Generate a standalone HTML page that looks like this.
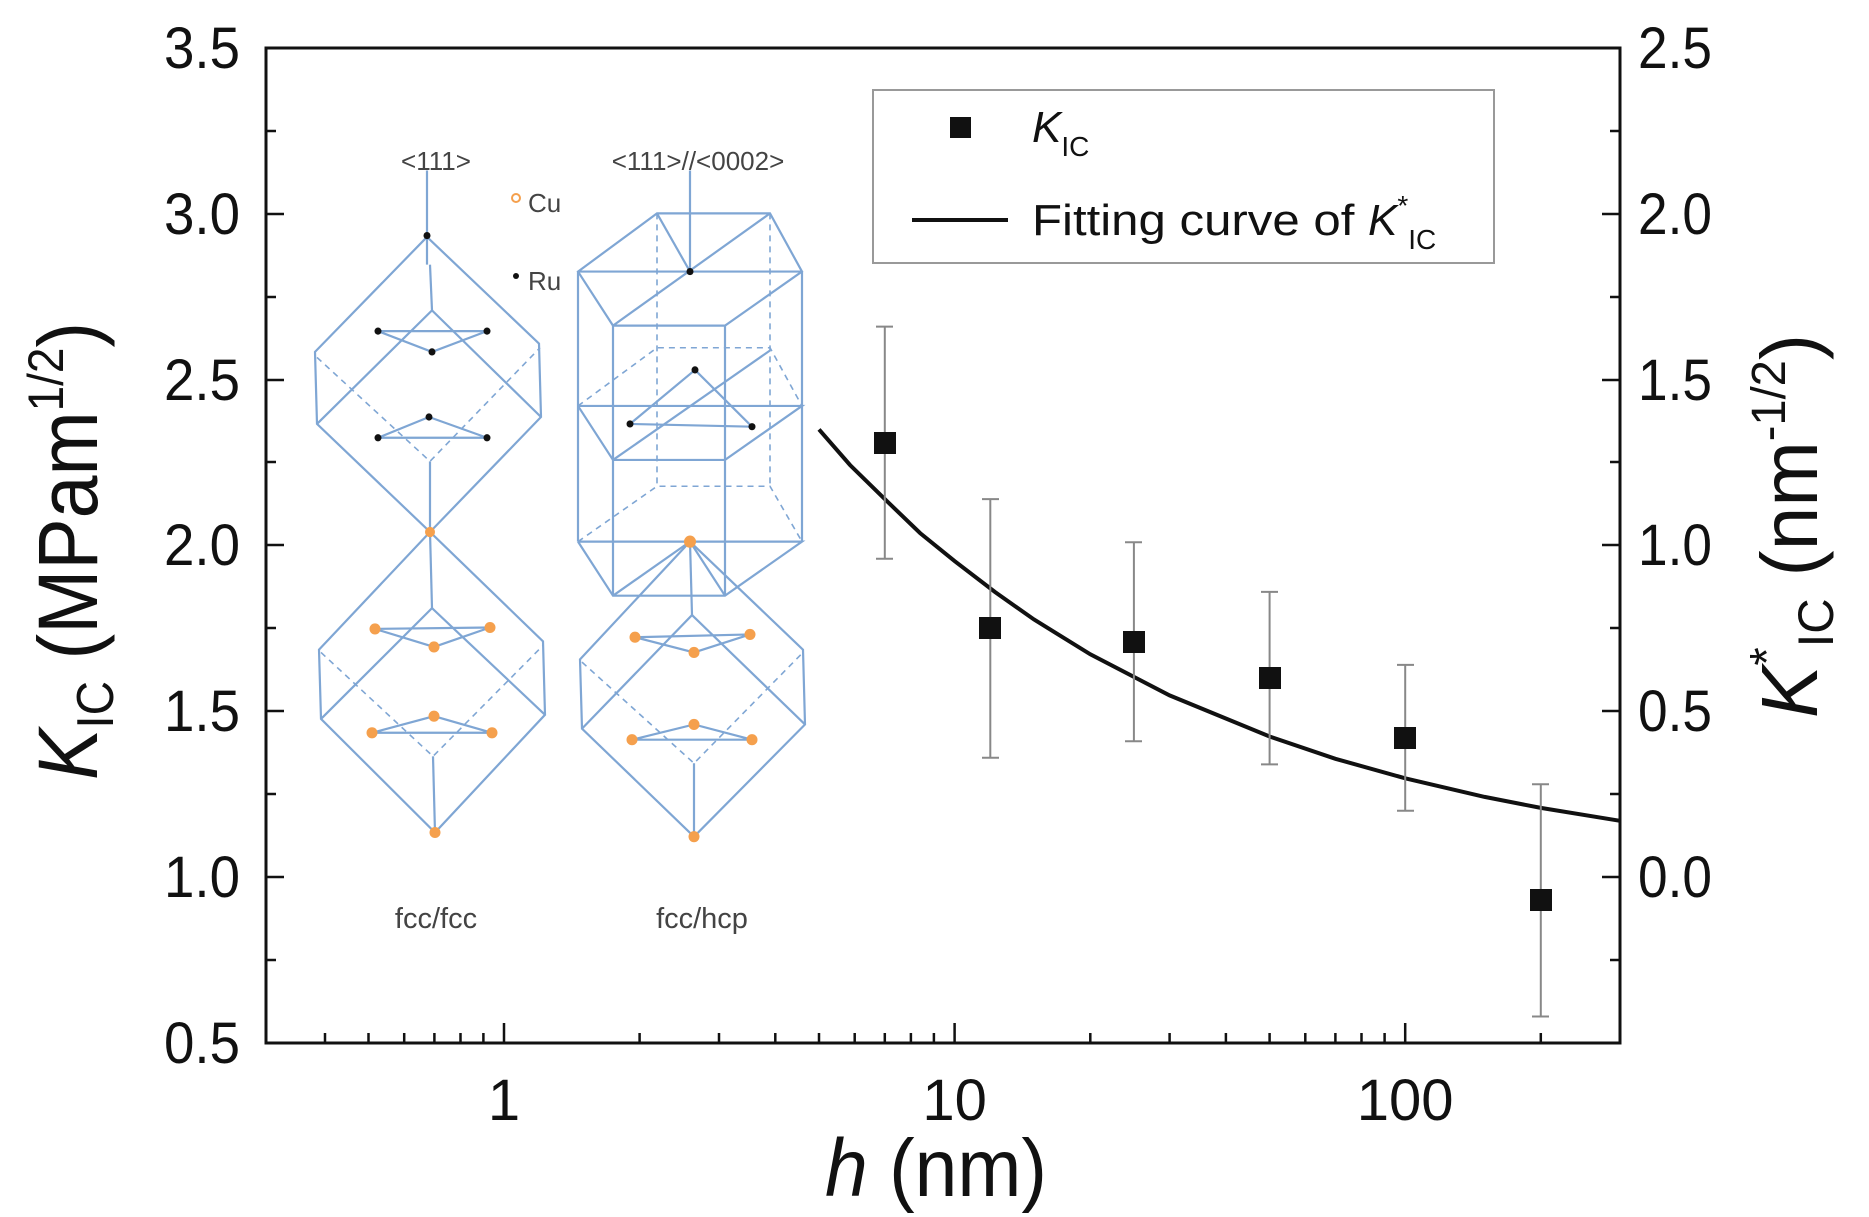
<!DOCTYPE html>
<html><head><meta charset="utf-8"><style>html,body{margin:0;padding:0;background:#fff}svg{display:block}</style></head>
<body>
<svg xmlns="http://www.w3.org/2000/svg" width="1869" height="1217" viewBox="0 0 1869 1217" font-family="Liberation Sans, sans-serif">
<rect width="1869" height="1217" fill="#fff"/>
<!-- inset crystals -->
<g transform="translate(0,140) scale(1,1.385) translate(0,-140)">
<g stroke="#7fa6d4" stroke-width="2.2" fill="none" vector-effect="non-scaling-stroke">
  <line x1="427" y1="162" x2="427" y2="230" vector-effect="non-scaling-stroke"/>
  <polygon points="427,210 315,293 317,345 430,423 541,340 539,287" vector-effect="non-scaling-stroke"/>
  <polyline points="317,345 432,263 541,340" vector-effect="non-scaling-stroke"/>
  <line x1="432" y1="263" x2="430" y2="230" vector-effect="non-scaling-stroke"/>
  <line x1="430" y1="372" x2="430" y2="423" vector-effect="non-scaling-stroke"/>
  <polyline points="378,278 487,278 432,293 378,278" vector-effect="non-scaling-stroke"/>
  <polyline points="378,355 487,355 429,340 378,355" vector-effect="non-scaling-stroke"/>
  <polygon points="430,423 319,508 321,558 435,640 545,555 543,502" vector-effect="non-scaling-stroke"/>
  <polyline points="321,558 432,478 545,555" vector-effect="non-scaling-stroke"/>
  <line x1="430" y1="423" x2="432" y2="478" vector-effect="non-scaling-stroke"/>
  <line x1="433" y1="585" x2="435" y2="640" vector-effect="non-scaling-stroke"/>
  <polyline points="375,493 490,492 434,506 375,493" vector-effect="non-scaling-stroke"/>
  <polyline points="372,568 492,568 434,556 372,568" vector-effect="non-scaling-stroke"/>
  <line x1="690" y1="162" x2="690" y2="235" vector-effect="non-scaling-stroke"/>
  <polygon points="578,235 657,193 770,193 802,235 725,274 613,274" vector-effect="non-scaling-stroke"/>
  <line x1="578" y1="235" x2="802" y2="235" vector-effect="non-scaling-stroke"/>
  <polyline points="578,332 802,332 725,371 613,371 578,332" vector-effect="non-scaling-stroke"/>
  <polyline points="578,430 802,430 725,469 613,469 578,430" vector-effect="non-scaling-stroke"/>
  <line x1="578" y1="235" x2="578" y2="430" vector-effect="non-scaling-stroke"/><line x1="802" y1="235" x2="802" y2="430" vector-effect="non-scaling-stroke"/>
  <line x1="613" y1="274" x2="613" y2="469" vector-effect="non-scaling-stroke"/><line x1="725" y1="274" x2="725" y2="469" vector-effect="non-scaling-stroke"/>
  <line x1="657" y1="193" x2="690" y2="235" vector-effect="non-scaling-stroke"/><line x1="770" y1="193" x2="613" y2="274" vector-effect="non-scaling-stroke"/>
  <line x1="630" y1="345" x2="752" y2="347" vector-effect="non-scaling-stroke"/><line x1="630" y1="345" x2="695" y2="306" vector-effect="non-scaling-stroke"/><line x1="695" y1="306" x2="752" y2="347" vector-effect="non-scaling-stroke"/>
  <line x1="613" y1="371" x2="770" y2="292" vector-effect="non-scaling-stroke"/>
  <line x1="613" y1="469" x2="690" y2="430" vector-effect="non-scaling-stroke"/><line x1="690" y1="430" x2="725" y2="469" vector-effect="non-scaling-stroke"/>
  <polygon points="690,430 580,515 582,565 694,643 805,562 803,508" vector-effect="non-scaling-stroke"/>
  <polyline points="582,565 692,483 805,562" vector-effect="non-scaling-stroke"/>
  <line x1="690" y1="430" x2="692" y2="483" vector-effect="non-scaling-stroke"/>
  <line x1="694" y1="590" x2="694" y2="643" vector-effect="non-scaling-stroke"/>
  <polyline points="635,499 750,497 694,510 635,499" vector-effect="non-scaling-stroke"/>
  <polyline points="632,573 752,573 694,562 632,573" vector-effect="non-scaling-stroke"/>
</g>
<g stroke="#7fa6d4" stroke-width="1.6" fill="none" stroke-dasharray="6,5">
  <polyline points="317,297 430,372 540,290" vector-effect="non-scaling-stroke"/>
  <polyline points="321,510 433,585 543,505" vector-effect="non-scaling-stroke"/>
  <polyline points="582,517 694,590 803,510" vector-effect="non-scaling-stroke"/>
  <line x1="657" y1="193" x2="657" y2="390" vector-effect="non-scaling-stroke"/><line x1="770" y1="193" x2="770" y2="390" vector-effect="non-scaling-stroke"/>
  <polyline points="578,332 657,290 770,290 802,332" vector-effect="non-scaling-stroke"/>
  <polyline points="578,430 657,390 770,390 802,430" vector-effect="non-scaling-stroke"/>
</g>
<g fill="#111">
  <ellipse cx="427" cy="209" rx="3.5" ry="2.6"/>
  <ellipse cx="378" cy="278" rx="3.5" ry="2.6"/><ellipse cx="487" cy="278" rx="3.5" ry="2.6"/><ellipse cx="432" cy="293" rx="3.5" ry="2.6"/>
  <ellipse cx="378" cy="355" rx="3.5" ry="2.6"/><ellipse cx="487" cy="355" rx="3.5" ry="2.6"/><ellipse cx="429" cy="340" rx="3.5" ry="2.6"/>
  <ellipse cx="690" cy="235" rx="3.5" ry="2.6"/><ellipse cx="695" cy="306" rx="3.5" ry="2.6"/><ellipse cx="630" cy="345" rx="3.5" ry="2.6"/><ellipse cx="752" cy="347" rx="3.5" ry="2.6"/>
</g>
<g fill="#f5a04d">
  <ellipse cx="430" cy="423" rx="5" ry="3.7"/><ellipse cx="435" cy="640" rx="5.5" ry="4"/>
  <ellipse cx="375" cy="493" rx="5.5" ry="4"/><ellipse cx="490" cy="492" rx="5.5" ry="4"/><ellipse cx="434" cy="506" rx="5.5" ry="4"/>
  <ellipse cx="372" cy="568" rx="5.5" ry="4"/><ellipse cx="492" cy="568" rx="5.5" ry="4"/><ellipse cx="434" cy="556" rx="5.5" ry="4"/>
  <ellipse cx="690" cy="430" rx="6" ry="4.4"/><ellipse cx="694" cy="643" rx="5.5" ry="4"/>
  <ellipse cx="635" cy="499" rx="5.5" ry="4"/><ellipse cx="750" cy="497" rx="5.5" ry="4"/><ellipse cx="694" cy="510" rx="5.5" ry="4"/>
  <ellipse cx="632" cy="573" rx="5.5" ry="4"/><ellipse cx="752" cy="573" rx="5.5" ry="4"/><ellipse cx="694" cy="562" rx="5.5" ry="4"/>
</g>
</g>
<circle cx="516" cy="198" r="4" fill="none" stroke="#f5a04d" stroke-width="2"/>
<circle cx="516" cy="276" r="3" fill="#111"/>
<g fill="#444" font-size="26">
  <text x="436" y="170" text-anchor="middle">&lt;111&gt;</text>
  <text x="698" y="170" text-anchor="middle">&lt;111&gt;//&lt;0002&gt;</text>
  <text x="528" y="212">Cu</text>
  <text x="528" y="290">Ru</text>
  <text x="436" y="928" font-size="29" text-anchor="middle">fcc/fcc</text>
  <text x="702" y="928" font-size="29" text-anchor="middle">fcc/hcp</text>
</g>
<!-- axes frame -->
<rect x="266" y="48" width="1354" height="995" fill="none" stroke="#111" stroke-width="3"/>
<g stroke="#111" stroke-width="2.5">
  <path d="M266 1043h18M266 960h10M266 877h18M266 794h10M266 711h18M266 628h10M266 545h18M266 462h10M266 380h18M266 297h10M266 214h18M266 131h10M266 48h18"/>
  <path d="M1620 1043h-18M1620 960h-10M1620 877h-18M1620 794h-10M1620 711h-18M1620 628h-10M1620 545h-18M1620 462h-10M1620 380h-18M1620 297h-10M1620 214h-18M1620 131h-10M1620 48h-18"/>
  <path d="M504 1043v-20M954.6 1043v-20M1405.2 1043v-20
  M325 1043v-10M368.5 1043v-10M404.2 1043v-10M434.4 1043v-10M460.5 1043v-10M483.4 1043v-10
  M639.6 1043v-10M719 1043v-10M775.3 1043v-10M819 1043v-10M854.7 1043v-10M884.8 1043v-10M910.9 1043v-10M933.9 1043v-10
  M1090.3 1043v-10M1169.6 1043v-10M1225.9 1043v-10M1269.6 1043v-10M1305.3 1043v-10M1335.4 1043v-10M1361.5 1043v-10M1384.6 1043v-10
  M1540.8 1043v-10"/>
</g>
<g font-size="58" fill="#111">
  <g text-anchor="end">
    <text x="240" y="1063" textLength="76" lengthAdjust="spacingAndGlyphs">0.5</text>
    <text x="240" y="897" textLength="76" lengthAdjust="spacingAndGlyphs">1.0</text>
    <text x="240" y="731" textLength="76" lengthAdjust="spacingAndGlyphs">1.5</text>
    <text x="240" y="565" textLength="76" lengthAdjust="spacingAndGlyphs">2.0</text>
    <text x="240" y="400" textLength="76" lengthAdjust="spacingAndGlyphs">2.5</text>
    <text x="240" y="234" textLength="76" lengthAdjust="spacingAndGlyphs">3.0</text>
    <text x="240" y="68" textLength="76" lengthAdjust="spacingAndGlyphs">3.5</text>
  </g>
  <text x="1638" y="897" textLength="74" lengthAdjust="spacingAndGlyphs">0.0</text>
  <text x="1638" y="731" textLength="74" lengthAdjust="spacingAndGlyphs">0.5</text>
  <text x="1638" y="565" textLength="74" lengthAdjust="spacingAndGlyphs">1.0</text>
  <text x="1638" y="400" textLength="74" lengthAdjust="spacingAndGlyphs">1.5</text>
  <text x="1638" y="234" textLength="74" lengthAdjust="spacingAndGlyphs">2.0</text>
  <text x="1638" y="68" textLength="74" lengthAdjust="spacingAndGlyphs">2.5</text>
  <text x="504" y="1120" text-anchor="middle">1</text>
  <text x="954.6" y="1120" text-anchor="middle">10</text>
  <text x="1405.2" y="1120" text-anchor="middle">100</text>
</g>
<text x="936" y="1196" font-size="82" text-anchor="middle" fill="#111" textLength="222" lengthAdjust="spacingAndGlyphs"><tspan font-style="italic">h</tspan> (nm)</text>
<text transform="translate(97,780) rotate(-90)" font-size="84" fill="#111" textLength="458" lengthAdjust="spacingAndGlyphs"><tspan font-style="italic">K</tspan><tspan font-size="52" dy="16">IC</tspan><tspan dy="-16"> (MPam</tspan><tspan font-size="50" dy="-34">1/2</tspan><tspan dy="34">)</tspan></text>
<text transform="translate(1817,718) rotate(-90)" font-size="80" fill="#111" textLength="384" lengthAdjust="spacingAndGlyphs"><tspan font-style="italic">K</tspan><tspan font-size="48" dy="-34">*</tspan><tspan font-size="50" dy="50">IC</tspan><tspan dy="-16"> (nm</tspan><tspan font-size="48" dy="-32">-1/2</tspan><tspan dy="32">)</tspan></text>
<rect x="873" y="90" width="621" height="173" fill="#fff" stroke="#999" stroke-width="2"/>
<rect x="950" y="117" width="21" height="21" fill="#111"/>
<text x="1032" y="142" font-size="44" fill="#111"><tspan font-style="italic">K</tspan><tspan font-size="28" dy="14">IC</tspan></text>
<line x1="912" y1="220" x2="1008" y2="220" stroke="#111" stroke-width="4"/>
<text x="1032" y="235" font-size="44" fill="#111"><tspan textLength="336" lengthAdjust="spacingAndGlyphs">Fitting curve of </tspan><tspan font-style="italic">K</tspan><tspan font-size="28" dy="-20">*</tspan><tspan font-size="28" dy="34">IC</tspan></text>
<polyline fill="none" stroke="#111" stroke-width="4" points="819,429.4 850,465 884.8,499.1 920,533 954.6,561.1 995,592 1034,619.5 1090.3,654.3 1169.6,695.4 1269.6,736.5 1335.4,758.8 1405.2,778.3 1484.6,796.9 1540.8,807.9 1620,820.8"/>
<g stroke="#888" stroke-width="2">
  <path d="M884.8 326.6V558.8M876 326.6h17M876 558.8h17"/>
  <path d="M990.3 499.1V757.8M982 499.1h17M982 757.8h17"/>
  <path d="M1133.9 542.2V741.2M1125 542.2h17M1125 741.2h17"/>
  <path d="M1269.6 591.9V764.4M1261 591.9h17M1261 764.4h17"/>
  <path d="M1405.2 664.9V810.8M1397 664.9h17M1397 810.8h17"/>
  <path d="M1540.8 784.3V1016.5M1532 784.3h17M1532 1016.5h17"/>
</g>
<g fill="#111">
  <rect x="874" y="432" width="22" height="22"/>
  <rect x="979" y="617" width="22" height="22"/>
  <rect x="1123" y="631" width="22" height="22"/>
  <rect x="1259" y="667" width="22" height="22"/>
  <rect x="1394" y="727" width="22" height="22"/>
  <rect x="1530" y="889" width="22" height="22"/>
</g>
</svg>
</body></html>
